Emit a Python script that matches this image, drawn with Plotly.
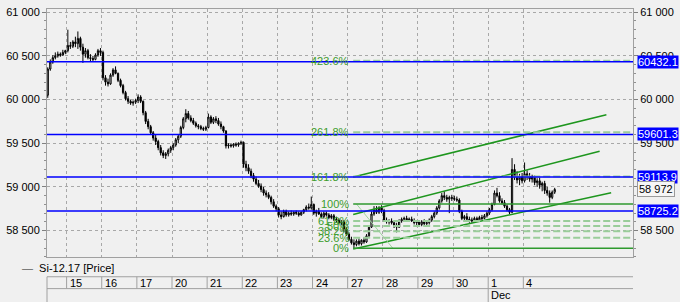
import plotly.graph_objects as go

# ---------------- data ----------------
day_labels = ['', '15', '16', '17', '20', '21', '22', '23', '24', '27', '28', '29', '30', '1', '4']
candles_per_day = [8, 14, 14, 14, 14, 14, 14, 14, 14, 14, 14, 14, 14, 14, 13]
month_labels = {'1': 'Dec'}
legend_text = 'Si-12.17 [Price]'

opens = [
    60050, 60350, 60430, 60480, 60500, 60520, 60510, 60540,
    60560, 60620, 60610, 60660, 60640, 60700, 60600, 60520, 60560, 60480, 60470, 60460, 60510, 60560,
    60540, 60250, 60200, 60180, 60280, 60340, 60300, 60220, 60160, 60080, 60010, 59980, 59960, 59970,
    59990, 60030, 59980, 59850, 59750, 59690, 59620, 59560, 59520, 59450, 59390, 59360, 59380, 59420,
    59450, 59480, 59540, 59580, 59680, 59780, 59840, 59790, 59760, 59730, 59700, 59690, 59670, 59660,
    59680, 59800, 59740, 59780, 59760, 59720, 59690, 59640, 59470, 59480, 59470, 59490, 59480, 59500,
    59510, 59260, 59220, 59180, 59130, 59090, 59040, 59010, 58970, 58930, 58910, 58880, 58830, 58780,
    58750, 58680, 58660, 58720, 58680, 58700, 58690, 58710, 58700, 58680, 58710, 58740, 58770, 58760,
    58800, 58700, 58720, 58690, 58660, 58700, 58680, 58650, 58670, 58630, 58620, 58590, 58600, 58520,
    58460, 58400, 58360, 58340, 58380, 58350, 58390, 58370, 58440, 58540, 58690, 58740, 58710, 58760,
    58730, 58620, 58600, 58610, 58590, 58560, 58540, 58610, 58630, 58640, 58620, 58630, 58610, 58590,
    58600, 58570, 58600, 58580, 58590, 58620, 58660, 58700, 58760, 58840, 58900, 58880, 58860, 58880,
    58870, 58860, 58850, 58720, 58640, 58660, 58630, 58610, 58620, 58640, 58620, 58650, 58640, 58670,
    58700, 58740, 58800, 58930, 58900, 58840, 58820, 58780, 58740, 58710, 59200, 59120, 59080, 59110,
    59070, 59150, 59120, 59090, 59110, 59050, 59070, 59020, 59040, 58960, 58930, 58880, 58940,
]
highs = [
    60370, 60460, 60510, 60540, 60550, 60540, 60570, 60570,
    60800, 60660, 60680, 60720, 60780, 60720, 60640, 60590, 60580, 60520, 60500, 60530, 60580, 60590,
    60560, 60280, 60240, 60300, 60360, 60380, 60310, 60240, 60180, 60100, 60040, 60000, 59990, 60010,
    60060, 60050, 59990, 59870, 59780, 59710, 59640, 59600, 59540, 59480, 59420, 59400, 59440, 59470,
    59500, 59560, 59600, 59700, 59800, 59890, 59870, 59820, 59790, 59750, 59720, 59710, 59690, 59700,
    59840, 59820, 59800, 59810, 59790, 59750, 59700, 59650, 59500, 59500, 59500, 59510, 59510, 59530,
    59520, 59300, 59260, 59210, 59160, 59120, 59080, 59040, 59000, 58960, 58940, 58900, 58860, 58800,
    58770, 58720, 58740, 58740, 58720, 58730, 58720, 58730, 58720, 58720, 58750, 58790, 58810, 58890,
    58810, 58740, 58760, 58710, 58720, 58720, 58700, 58690, 58690, 58660, 58640, 58620, 58620, 58540,
    58480, 58430, 58400, 58400, 58410, 58400, 58420, 58460, 58560, 58720, 58780, 58780, 58780, 58790,
    58750, 58650, 58630, 58640, 58610, 58590, 58630, 58650, 58660, 58670, 58650, 58660, 58640, 58620,
    58620, 58620, 58630, 58610, 58640, 58680, 58720, 58780, 58860, 58930, 58950, 58910, 58900, 58910,
    58900, 58890, 58870, 58740, 58680, 58700, 58660, 58650, 58660, 58660, 58670, 58680, 58690, 58720,
    58760, 58820, 58960, 58990, 58940, 58870, 58850, 58800, 58760, 59330, 59260, 59180, 59150, 59160,
    59280, 59190, 59160, 59140, 59130, 59100, 59110, 59060, 59070, 59000, 58960, 58960, 58990,
]
lows = [
    60020, 60330, 60410, 60460, 60480, 60490, 60500, 60520,
    60540, 60580, 60590, 60600, 60580, 60560, 60420, 60480, 60460, 60440, 60440, 60450, 60490, 60500,
    60220, 60160, 60150, 60170, 60260, 60290, 60200, 60140, 60060, 59990, 59950, 59940, 59930, 59950,
    59960, 59960, 59820, 59720, 59660, 59600, 59530, 59480, 59420, 59360, 59330, 59320, 59350, 59390,
    59420, 59460, 59500, 59560, 59660, 59740, 59770, 59740, 59710, 59680, 59660, 59650, 59640, 59640,
    59670, 59720, 59720, 59730, 59700, 59660, 59620, 59440, 59440, 59450, 59450, 59460, 59460, 59480,
    59220, 59180, 59150, 59100, 59060, 59020, 58990, 58940, 58900, 58880, 58860, 58800, 58760, 58720,
    58650, 58630, 58650, 58660, 58660, 58670, 58670, 58680, 58660, 58670, 58690, 58720, 58740, 58740,
    58680, 58660, 58680, 58640, 58640, 58660, 58630, 58630, 58610, 58590, 58570, 58560, 58480, 58440,
    58380, 58340, 58298, 58320, 58330, 58330, 58350, 58360, 58430, 58530, 58670, 58690, 58690, 58700,
    58600, 58580, 58570, 58570, 58530, 58480, 58530, 58590, 58600, 58610, 58600, 58600, 58570, 58560,
    58550, 58550, 58560, 58550, 58570, 58600, 58640, 58680, 58740, 58820, 58850, 58830, 58700, 58840,
    58840, 58830, 58700, 58620, 58600, 58610, 58590, 58590, 58600, 58600, 58610, 58620, 58630, 58650,
    58680, 58720, 58790, 58880, 58820, 58800, 58760, 58720, 58690, 58700, 59080, 59040, 59020, 59040,
    59050, 59080, 59060, 59050, 59020, 59000, 58980, 58950, 58920, 58900, 58820, 58860, 58920,
]
closes = [
    60350, 60430, 60480, 60500, 60520, 60510, 60540, 60560,
    60620, 60610, 60660, 60640, 60700, 60600, 60520, 60560, 60480, 60470, 60460, 60510, 60560, 60540,
    60250, 60200, 60180, 60280, 60340, 60300, 60220, 60160, 60080, 60010, 59980, 59960, 59970, 59990,
    60030, 59980, 59850, 59750, 59690, 59620, 59560, 59520, 59450, 59390, 59360, 59380, 59420, 59450,
    59480, 59540, 59580, 59680, 59780, 59840, 59790, 59760, 59730, 59700, 59690, 59670, 59660, 59680,
    59800, 59740, 59780, 59760, 59720, 59690, 59640, 59470, 59480, 59470, 59490, 59480, 59500, 59510,
    59260, 59220, 59180, 59130, 59090, 59040, 59010, 58970, 58930, 58910, 58880, 58830, 58780, 58750,
    58680, 58660, 58720, 58680, 58700, 58690, 58710, 58700, 58680, 58710, 58740, 58770, 58760, 58800,
    58700, 58720, 58690, 58660, 58700, 58680, 58650, 58670, 58630, 58620, 58590, 58600, 58520, 58460,
    58400, 58360, 58340, 58380, 58350, 58390, 58370, 58440, 58540, 58690, 58740, 58710, 58760, 58730,
    58620, 58600, 58610, 58590, 58560, 58540, 58610, 58630, 58640, 58620, 58630, 58610, 58590, 58600,
    58570, 58600, 58580, 58590, 58620, 58660, 58700, 58760, 58840, 58900, 58880, 58860, 58880, 58870,
    58860, 58850, 58720, 58640, 58660, 58630, 58610, 58620, 58640, 58620, 58650, 58640, 58670, 58700,
    58740, 58800, 58930, 58900, 58840, 58820, 58780, 58740, 58710, 59200, 59120, 59080, 59110, 59070,
    59150, 59120, 59090, 59110, 59050, 59070, 59020, 59040, 58960, 58930, 58880, 58940, 58972,
]

fib_levels = [0, 23.6, 38.2, 50, 61.8, 100, 161.8, 261.8, 423.6]
fib_low_price = 58298
fib_high_price = 58805
fib_start_index = 121.7
fib_diag_index = [123.0, 137.5]

level_prices = [60432.1, 59601.3, 59113.9, 58725.2]
last_price = 58972

channel_start_index = [121.7, 121.7, 121.7]
channel_start_price = [59115, 58685, 58289]
channel_end_index = [222.6, 219.9, 224.5]
channel_end_price = [59827, 59409, 58934]

y_ticks = [58500, 59000, 59500, 60000, 60500, 61000]
y_range = [58198, 61037]
x_range = [-0.31, 233.2]

# ---------------- figure ----------------
FONT = 'Liberation Sans, Arial, sans-serif'
GRID = '#a8a8a8'
BORDER = '#a0a0a0'
BG = '#f0f0f0'

x = list(range(len(closes)))

# day boundaries (candle index where each day starts, gridline half a slot before)
starts = []
acc = 0
for n in candles_per_day:
    starts.append(acc)
    acc += n
boundaries = [s - 0.5 for s in starts[1:]]

fig = go.Figure()

fig.add_trace(go.Candlestick(
    x=x, open=opens, high=highs, low=lows, close=closes,
    increasing=dict(line=dict(color='#000000', width=1), fillcolor='#ffffff'),
    decreasing=dict(line=dict(color='#000000', width=1), fillcolor='#000000'),
    whiskerwidth=0, showlegend=False, hoverinfo='skip'))

# channel lines
for xs, ys, xe, ye in zip(channel_start_index, channel_start_price, channel_end_index, channel_end_price):
    fig.add_trace(go.Scatter(x=[xs, xe], y=[ys, ye], mode='lines',
                             line=dict(color='#1e961e', width=1.5),
                             showlegend=False, hoverinfo='skip'))

# fib connecting diagonal
fig.add_trace(go.Scatter(x=fib_diag_index, y=[fib_high_price, fib_low_price], mode='lines',
                         line=dict(color='#9fd49f', width=1), showlegend=False, hoverinfo='skip'))

# dummy trace for right axis
fig.add_trace(go.Scatter(x=[x[-1]], y=[last_price], yaxis='y2', mode='markers',
                         marker=dict(opacity=0), showlegend=False, hoverinfo='skip'))

shapes = []
annotations = []

# fib levels
fib_range = fib_high_price - fib_low_price
for lv in fib_levels:
    p = fib_low_price + lv / 100.0 * fib_range
    if lv in (0, 100):
        line = dict(color='#2f9a2f', width=1.5)
    else:
        line = dict(color='#9acd9a', width=2, dash='7px,3px')
    shapes.append(dict(type='line', xref='x', yref='y', x0=fib_start_index, x1=x_range[1],
                       y0=p, y1=p, line=line))
    annotations.append(dict(xref='x', yref='y', x=fib_start_index, y=p, text=f'{lv:g}%',
                            xanchor='right', yanchor='middle', xshift=-2, showarrow=False,
                            font=dict(family=FONT, size=11, color='#3c9c2c')))

# blue price levels
for p in level_prices:
    shapes.append(dict(type='line', xref='paper', yref='y', x0=0, x1=1, y0=p, y1=p,
                       line=dict(color='#0000ff', width=1.5)))
    annotations.append(dict(xref='paper', yref='y', x=1, y=p, text=f'{p:.1f}', xanchor='left',
                            yanchor='middle', xshift=4, showarrow=False, bgcolor='#0000ff',
                            borderpad=0, font=dict(family=FONT, size=11, color='#ffffff')))

annotations.append(dict(xref='paper', yref='y', x=1, y=last_price,
                        text=f'{last_price:,}'.replace(',', ' '), xanchor='left', yanchor='middle',
                        xshift=4, showarrow=False, bgcolor='#f6f6f6', bordercolor='#9a9a9a',
                        borderwidth=1, borderpad=1, font=dict(family=FONT, size=11, color='#000000')))

# legend text
annotations.append(dict(xref='paper', yref='paper', x=-28 / 597, y=-11 / 251,
                        text='<span style="color:#606060">—</span>  ' + legend_text,
                        xanchor='left', yanchor='middle', showarrow=False,
                        font=dict(family=FONT, size=11, color='#000000')))

# bottom date table
row_top = -20 / 251
row_mid = -32 / 251
row_bot = -48 / 251
for yy in (row_top, row_mid):
    shapes.append(dict(type='line', xref='paper', yref='paper', x0=0, x1=1, y0=yy, y1=yy,
                       line=dict(color=BORDER, width=1)))
shapes.append(dict(type='line', xref='paper', yref='paper', x0=0, x1=0, y0=row_top, y1=row_bot,
                   line=dict(color=BORDER, width=1)))
for lab, b in zip(day_labels[1:], boundaries):
    shapes.append(dict(type='line', xref='x', yref='paper', x0=b, x1=b, y0=row_top, y1=row_mid,
                       line=dict(color=BORDER, width=1)))
    annotations.append(dict(xref='x', yref='paper', x=b, y=(row_top + row_mid) / 2, text=lab,
                            xanchor='left', yanchor='middle', xshift=1, showarrow=False,
                            font=dict(family=FONT, size=11, color='#000000')))
    if lab in month_labels:
        shapes.append(dict(type='line', xref='x', yref='paper', x0=b, x1=b, y0=row_mid, y1=row_bot,
                           line=dict(color=BORDER, width=1)))
        annotations.append(dict(xref='x', yref='paper', x=b, y=-38 / 251, text=month_labels[lab],
                                xanchor='left', yanchor='middle', xshift=1, showarrow=False,
                                font=dict(family=FONT, size=11, color='#000000')))

tick_text = [f'{v:,}'.replace(',', ' ') for v in y_ticks]
yaxis_common = dict(
    range=y_range, tickmode='array', tickvals=y_ticks, ticktext=tick_text,
    showgrid=True, gridcolor=GRID, griddash='dot', gridwidth=1,
    ticks='outside', ticklen=4, tickcolor='#808080',
    minor=dict(tickmode='linear', tick0=0, dtick=100, ticks='outside', ticklen=2,
               tickcolor='#909090', showgrid=False),
    showline=True, linecolor=BORDER, linewidth=1,
    tickfont=dict(family=FONT, size=11, color='#000000'),
    zeroline=False, fixedrange=True,
)

fig.update_layout(
    width=680, height=302,
    margin=dict(l=40, r=43, t=6, b=45),
    paper_bgcolor=BG, plot_bgcolor=BG,
    showlegend=False, hovermode=False,
    xaxis=dict(range=x_range, tickmode='array', tickvals=boundaries, showticklabels=False,
               ticks='', showgrid=True, gridcolor=GRID, griddash='dot', gridwidth=1,
               showline=True, mirror=True, linecolor=BORDER, linewidth=1,
               zeroline=False, rangeslider=dict(visible=False), fixedrange=True),
    yaxis=dict(side='left', **yaxis_common),
    yaxis2=dict(side='right', overlaying='y', **{k: v for k, v in yaxis_common.items() if k not in ('showgrid',)},
                showgrid=False),
    shapes=shapes,
    annotations=annotations,
    font=dict(family=FONT, size=11),
)

fig.write_html('out.html')
